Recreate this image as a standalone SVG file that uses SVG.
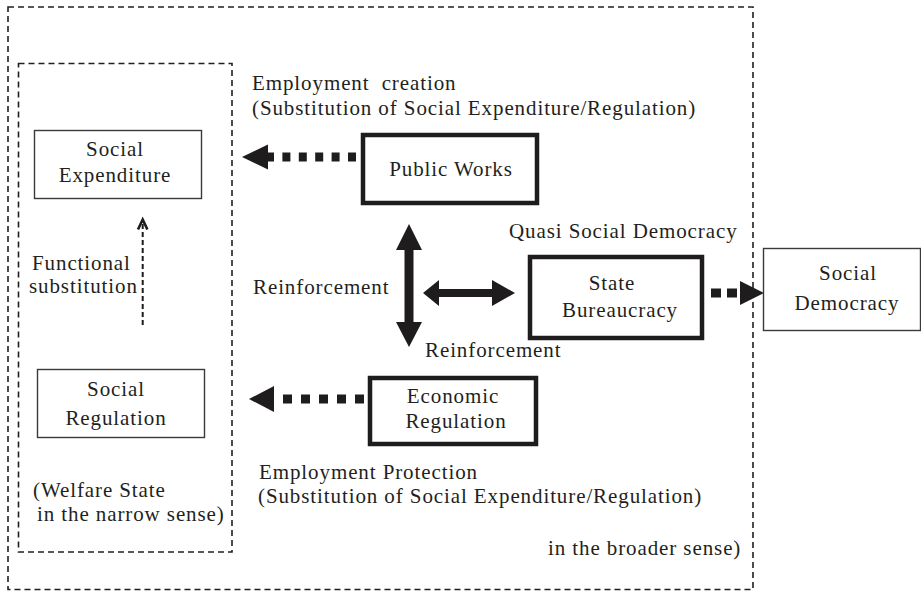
<svg xmlns="http://www.w3.org/2000/svg" width="921" height="591" viewBox="0 0 921 591">
<style>
text{font-family:"Liberation Serif","Times New Roman",serif;font-size:21px;fill:#231f20;letter-spacing:0.9px}
.c{text-anchor:middle}
.thin{fill:#fff;stroke:#3a3a3a;stroke-width:1.4}
.thick{fill:#fff;stroke:#1e1c1c;stroke-width:4.5}
.frame{fill:none;stroke:#231f20;stroke-width:1.6;stroke-dasharray:6 4}
.dash{fill:none;stroke:#1e1c1c;stroke-width:9}
.solid{fill:#1e1c1c;stroke:none}
</style>
<rect width="921" height="591" fill="#fff"/>
<g id="frames">
<rect class="frame" x="8" y="7" width="745" height="582.5"/>
<rect class="frame" x="18.5" y="63.5" width="213.5" height="488.5"/>
</g>
<g id="connectors">
<line class="dash" x1="356" y1="157" x2="266" y2="157" stroke-dasharray="8 8.4"/>
<polygon class="solid" points="242,157 268,144.5 268,169.5"/>
<line class="dash" x1="364" y1="399" x2="272" y2="399" stroke-dasharray="9 9"/>
<polygon class="solid" points="249,399 274,386 274,412"/>
<line class="dash" x1="711" y1="293" x2="740" y2="293" stroke-dasharray="10 6"/>
<polygon class="solid" points="740,281 764,293 740,305"/>
<polygon class="solid" points="409,224 422,250 413.5,250 413.5,322 422,322 409,347 396,322 404.5,322 404.5,250 396,250"/>
<polygon class="solid" points="423,293 439,280 439,289 492,289 492,280 515,293 492,306 492,297 439,297 439,306"/>
<line x1="142.7" y1="325" x2="142.7" y2="222" stroke="#1e1c1c" stroke-width="2" stroke-dasharray="5 3"/>
<polyline points="138,229.5 142.7,219.5 147.4,229.5" fill="none" stroke="#1e1c1c" stroke-width="2.6"/>
</g>
<g id="social-expenditure">
<rect class="thin" x="34.5" y="130.5" width="167" height="68"/>
<text class="c" x="115" y="156">Social</text>
<text class="c" x="115" y="182">Expenditure</text>
</g>
<g id="social-regulation">
<rect class="thin" x="37.5" y="369.5" width="167" height="68"/>
<text class="c" x="116" y="396">Social</text>
<text class="c" x="116" y="425">Regulation</text>
</g>
<g id="public-works">
<rect class="thick" x="363" y="135" width="174" height="68"/>
<text class="c" x="451" y="176">Public Works</text>
</g>
<g id="state-bureaucracy">
<rect class="thick" x="530" y="257" width="172" height="81"/>
<text class="c" x="612" y="290">State</text>
<text class="c" x="620" y="317">Bureaucracy</text>
</g>
<g id="economic-regulation">
<rect class="thick" x="370" y="378" width="166" height="66"/>
<text class="c" x="453" y="403">Economic</text>
<text class="c" x="456" y="428">Regulation</text>
</g>
<g id="social-democracy">
<rect class="thin" x="763.5" y="248.5" width="157" height="82"/>
<text class="c" x="848" y="280">Social</text>
<text class="c" x="847" y="310">Democracy</text>
</g>
<g id="labels">
<text x="252" y="90" word-spacing="6">Employment creation</text>
<text x="252" y="115">(Substitution of Social Expenditure/Regulation)</text>
<text x="509" y="238">Quasi Social Democracy</text>
<text x="253" y="294">Reinforcement</text>
<text x="425" y="357">Reinforcement</text>
<text x="32" y="270">Functional</text>
<text x="29" y="293">substitution</text>
<text x="259" y="479">Employment Protection</text>
<text x="258" y="503">(Substitution of Social Expenditure/Regulation)</text>
<text x="33" y="497">(Welfare State</text>
<text x="37" y="521">in the narrow sense)</text>
<text x="548" y="555">in the broader sense)</text>
</g>
</svg>
